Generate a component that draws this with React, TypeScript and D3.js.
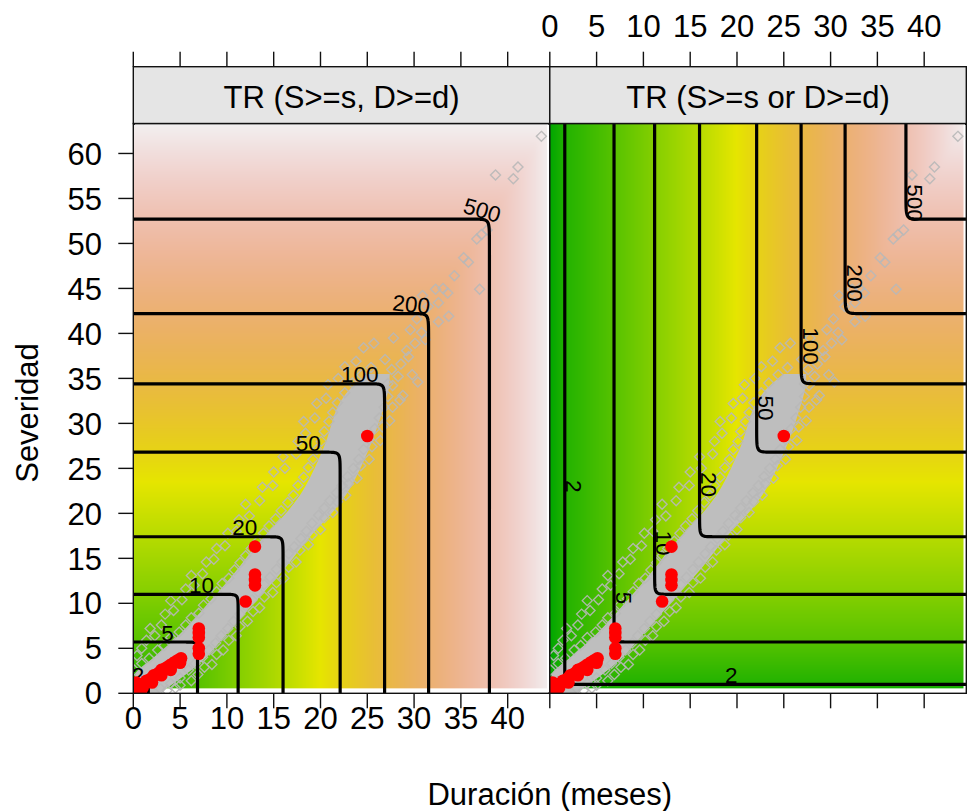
import React, { useMemo } from "react";
import * as d3 from "d3";

// ---------------- data ----------------
const levels = [2, 5, 10, 20, 50, 100, 200, 500];
// severity where each return-period level is reached (S marginal)
const sevAtLevel = [1.0, 5.7, 11.0, 17.4, 26.8, 34.4, 42.2, 52.7];
// duration where each return-period level is reached (D marginal)
const durAtLevel = [1.6, 6.86, 11.2, 16.0, 22.1, 26.85, 31.55, 38.05];

const xTickValues = [0, 5, 10, 15, 20, 25, 30, 35, 40];
const yTickValues = [0, 5, 10, 15, 20, 25, 30, 35, 40, 45, 50, 55, 60];
const panelTitles = ["TR (S>=s, D>=d)", "TR (S>=s or D>=d)"];
const xTitle = "Duración (meses)";
const yTitle = "Severidad";

// observed events (red)
const obsDur = [25, 13, 13, 13, 13, 12, 7, 7, 7, 7, 7,
  0.2, 0.4, 0.7, 0.9, 1.2, 1.4, 1.7, 2.0, 2.2, 2.5, 2.8, 3.0, 3.3, 3.6, 3.9, 4.2, 4.5, 4.8, 5.1, 1.0, 2.0, 3.0, 4.0, 5.0, 0.6, 0.3];
const obsSev = [28.6, 16.3, 13.2, 12.6, 12.0, 10.2, 7.2, 6.7, 6.2, 5.0, 4.4,
  0.3, 0.6, 0.8, 1.0, 1.1, 1.4, 1.5, 1.7, 2.0, 2.1, 2.3, 2.6, 2.7, 2.9, 3.1, 3.3, 3.5, 3.7, 3.9, 0.6, 1.2, 2.0, 2.6, 3.4, 0.2, 1.2];

// dense core of the simulated cloud (grey band): duration range per severity
const bandSev = [0, 2, 4, 6, 8, 10, 12, 14, 16, 18, 20, 22, 24, 26, 28, 30, 32, 34, 35.5];
const bandDurLo = [0, 0.2, 2.2, 4.4, 6.3, 8.0, 9.7, 11.3, 12.8, 14.5, 16.3, 17.8, 18.9, 19.8, 20.6, 21.2, 21.9, 23.3, 25.0];
const bandDurHi = [2.8, 5.5, 7.8, 9.5, 11.2, 12.9, 14.6, 16.3, 17.8, 19.4, 21.2, 22.7, 23.8, 24.7, 25.5, 26.2, 26.8, 27.3, 27.4];

// scattered simulated points (grey hollow diamonds) [duration, severity]
const simPoints = [
  [43.6, 61.9], [41.1, 58.5], [40.6, 57.2], [38.7, 57.6], [37.8, 51.5], [37.2, 51.0], [36.7, 50.5],
  [35.3, 48.4], [35.8, 47.9], [34.3, 46.4], [37.0, 44.9], [33.1, 45.0], [32.3, 44.9], [33.6, 44.5],
  [30.9, 44.2], [32.6, 43.4], [33.7, 41.9], [32.6, 41.3], [30.8, 40.1], [29.6, 40.4], [27.8, 39.5],
  [30.1, 38.9], [29.4, 37.4], [26.9, 37.1], [27.6, 36.0], [28.3, 35.2], [31.5, 43.0], [30.3, 41.6],
  [31.2, 39.3], [29.2, 38.1], [28.6, 36.6], [29.8, 35.4], [27.2, 34.4], [28.8, 33.1], [30.4, 34.6],
  [0.4, 4.2], [0.9, 5.0], [1.4, 5.9], [2.3, 6.4], [1.8, 7.2], [3.0, 7.6], [3.4, 8.8], [4.3, 9.2],
  [4.0, 10.3], [5.2, 10.4], [5.6, 11.6], [6.5, 12.0], [6.2, 13.1], [7.4, 13.3], [7.8, 14.6], [8.6, 14.9],
  [8.9, 16.1], [9.8, 16.4], [10.1, 17.8], [11.0, 18.0], [11.3, 19.3], [12.4, 19.7], [12.0, 21.0],
  [13.5, 21.4], [13.8, 22.9], [14.9, 23.1], [15.0, 24.6], [16.2, 25.0], [16.0, 26.3], [17.4, 26.6],
  [17.6, 28.0], [18.4, 28.9], [18.2, 30.2], [19.4, 30.6], [19.6, 32.2], [20.6, 32.8], [20.8, 34.3],
  [21.9, 35.0], [22.6, 36.3], [23.8, 36.9], [24.6, 38.4], [25.7, 38.9],
  [3.6, 0.3], [4.5, 0.6], [5.0, 0.9], [6.2, 1.4], [6.9, 2.1], [7.6, 2.9], [8.4, 3.2], [8.9, 4.3],
  [9.6, 4.8], [10.2, 5.9], [11.0, 6.4], [11.4, 7.4], [12.2, 8.0], [12.8, 9.1], [13.5, 9.5], [14.0, 10.7],
  [14.9, 11.2], [15.3, 12.3], [16.1, 12.8], [16.6, 14.0], [17.4, 14.6], [17.8, 15.9], [18.7, 16.5],
  [19.1, 17.6], [20.0, 18.2], [20.4, 19.5], [21.3, 20.1], [21.8, 21.3], [22.7, 22.0], [23.0, 23.3],
  [23.9, 23.9], [24.3, 25.3], [25.2, 26.0], [25.5, 27.4], [26.4, 28.1], [26.6, 29.6], [27.4, 30.3],
  [27.7, 31.8], [28.5, 32.6],
  [0.1, 2.6], [0.9, 3.3], [1.7, 3.9], [2.6, 4.8], [3.3, 5.3], [4.0, 6.2], [4.9, 6.8], [5.6, 7.6],
  [6.2, 8.4], [7.0, 8.9], [7.5, 9.8], [8.3, 10.5], [8.9, 11.3], [9.5, 12.2], [10.2, 12.8], [10.8, 13.7],
  [11.4, 14.5], [12.0, 15.3], [12.6, 16.1], [13.3, 16.9], [13.9, 17.8], [14.5, 18.6], [15.2, 19.4],
  [15.8, 20.3], [16.5, 21.2], [17.1, 22.0], [17.6, 23.1], [18.2, 24.0], [18.7, 25.1], [19.2, 26.0],
  [19.6, 27.1], [20.1, 28.0], [20.4, 29.1], [20.9, 30.2], [21.3, 31.2], [21.8, 32.3], [22.6, 33.4],
  [23.4, 34.5], [24.4, 35.4], [25.4, 36.2],
  [2.9, 0.5], [4.0, 1.1], [5.0, 1.7], [5.9, 2.6], [6.6, 3.3], [7.4, 4.0], [8.1, 4.8], [8.8, 5.6],
  [9.4, 6.4], [10.1, 7.2], [10.7, 8.0], [11.4, 8.8], [12.0, 9.7], [12.7, 10.4], [13.3, 11.3], [14.0, 12.1],
  [14.6, 12.9], [15.3, 13.8], [15.9, 14.6], [16.6, 15.5], [17.2, 16.3], [17.9, 17.2], [18.5, 18.0],
  [19.1, 18.9], [19.8, 19.8], [20.4, 20.6], [21.0, 21.4], [21.7, 22.3], [22.3, 23.1], [22.9, 24.1],
  [23.5, 25.0], [24.1, 26.0], [24.6, 27.1], [25.2, 28.2], [25.8, 29.4], [26.3, 30.6], [26.8, 31.8],
  [27.2, 33.0], [27.7, 34.2],
];

// ---------------- layout ----------------
const W = 968;
const H = 811;
const PX0 = [133.3, 549.8];
const PW = 416.5;
const PY0 = 123.5;
const PY1 = 693.3;
const STRIP_Y = 66.7;
const X_MAX = 44.5;
const Y_MAX = 63.33;
const IMG_X1 = 44.2;
const IMG_Y0 = 0.55;
const TICK = 15;
const FONT = "'Liberation Sans', Arial, Helvetica, sans-serif";
const FS = 31;
const LABEL_FS = 22.5;

// contour label placement (layout): left panel -> along horizontal part, offset from corner
const leftLabelOffset = [1.1, 3.2, 3.9, 4.1, 3.4, 2.65, 1.95, 1.05];
const leftLabelRotate = [0, 0, 0, 0, 0, 0, 6, 16];
// right panel -> along vertical part, severity of label centre
const rightLabelSev = [23.0, 10.6, 16.7, 23.2, 31.7, 38.6, 45.6, 54.5];
const rightExtraLabelDur = 19.4; // second label of level 2 on horizontal branch

// ---------------- model of return-period surface ----------------
const lnLevels = levels.map(Math.log);
const sevToLn = d3.scaleLinear().domain([0, ...sevAtLevel]).range([0, ...lnLevels]);
const durToLn = d3.scaleLinear().domain([0, ...durAtLevel]).range([0, ...lnLevels]);
const K = 25;
function smax(a: number, b: number) {
  const m = Math.max(a, b);
  return m + Math.log(Math.exp(K * (a - m)) + Math.exp(K * (b - m))) / K;
}
function lnTR(panel: number, d: number, s: number) {
  const a = sevToLn(s);
  const b = durToLn(d);
  return panel === 0 ? smax(a, b) : -smax(-a, -b);
}

// terrain.colors as continuous ramp
const tScale = d3.scaleLinear().domain([0, Math.log(1300)]).range([0, 1]).clamp(true);
const hS = d3.scaleLinear().domain([0, 0.5, 1]).range([120, 60, 0]);
const sS = d3.scaleLinear().domain([0, 0.5, 1]).range([1, 1, 0]);
const vS = d3.scaleLinear().domain([0, 0.5, 1]).range([0.65, 0.9, 0.95]);
function hsv(h: number, s: number, v: number): [number, number, number] {
  const c = v * s;
  const hp = h / 60;
  const x = c * (1 - Math.abs((hp % 2) - 1));
  let r = 0, g = 0;
  if (hp < 1) { r = c; g = x; } else { r = x; g = c; }
  const m = v - c;
  return [(r + m) * 255, (g + m) * 255, m * 255];
}
function colorOf(ln: number) {
  const t = tScale(ln);
  return hsv(hS(t), sS(t), vS(t));
}

function xScaleFor(p: number) {
  return d3.scaleLinear().domain([0, X_MAX]).range([PX0[p], PX0[p] + PW]);
}
const yScale = d3.scaleLinear().domain([0, Y_MAX]).range([PY1, PY0]);

function fieldImage(p: number) {
  const xs = xScaleFor(p);
  const x0 = xs(0), x1 = xs(IMG_X1), y0 = yScale(Y_MAX), y1 = yScale(IMG_Y0);
  const w = Math.round(x1 - x0), h = Math.round(y1 - y0);
  const canvas = document.createElement("canvas");
  canvas.width = w;
  canvas.height = h;
  const ctx = canvas.getContext("2d")!;
  const img = ctx.createImageData(w, h);
  for (let j = 0; j < h; j++) {
    const s = yScale.invert(y0 + j + 0.5);
    for (let i = 0; i < w; i++) {
      const d = xs.invert(x0 + i + 0.5);
      const [r, g, b] = colorOf(lnTR(p, d, s));
      const k = (j * w + i) * 4;
      img.data[k] = r; img.data[k + 1] = g; img.data[k + 2] = b; img.data[k + 3] = 255;
    }
  }
  ctx.putImageData(img, 0, 0);
  return { href: canvas.toDataURL(), x: x0, y: y0, w: x1 - x0, h: y1 - y0 };
}

const STEP = 0.1;
function contourPaths(p: number) {
  const xs = xScaleFor(p);
  const nx = Math.round(X_MAX / STEP) + 1;
  const ny = Math.round(Y_MAX / STEP) + 1;
  const values = new Float64Array(nx * ny);
  for (let j = 0; j < ny; j++)
    for (let i = 0; i < nx; i++) values[j * nx + i] = lnTR(p, i * STEP, j * STEP);
  const cs = d3.contours().size([nx, ny]).thresholds(lnLevels)(Array.from(values));
  const X = (c: number) => xs((c - 0.5) * STEP);
  const Y = (c: number) => yScale((c - 0.5) * STEP);
  const same = (a: number[], b: number[]) =>
    (a[0] === 0 && b[0] === 0) || (a[0] === nx && b[0] === nx) ||
    (a[1] === 0 && b[1] === 0) || (a[1] === ny && b[1] === ny);
  return cs.map((c) => {
    let dstr = "";
    for (const poly of c.coordinates) {
      for (const ring of poly) {
        let pen = false;
        for (let k = 0; k < ring.length - 1; k++) {
          const a = ring[k], b = ring[k + 1];
          if (same(a, b)) { pen = false; continue; }
          if (!pen) { dstr += `M${X(a[0]).toFixed(2)},${Y(a[1]).toFixed(2)}`; pen = true; }
          dstr += `L${X(b[0]).toFixed(2)},${Y(b[1]).toFixed(2)}`;
        }
      }
    }
    return dstr;
  });
}

const diamond = "M0,-5L5,0L0,5L-5,0Z";

function Panel({ p }: { p: number }) {
  const xs = useMemo(() => xScaleFor(p), [p]);
  const img = useMemo(() => fieldImage(p), [p]);
  const paths = useMemo(() => contourPaths(p), [p]);
  const band = d3
    .area<number>()
    .y((_, i) => yScale(bandSev[i]))
    .x0((_, i) => xs(bandDurLo[i]))
    .x1((_, i) => xs(bandDurHi[i]))
    .curve(d3.curveMonotoneY)(bandSev);
  const clipId = `clip${p}`;
  return (
    <g>
      <defs>
        <clipPath id={clipId}>
          <rect x={PX0[p]} y={PY0} width={PW} height={PY1 - PY0} />
        </clipPath>
      </defs>
      <rect x={PX0[p]} y={PY0} width={PW} height={PY1 - PY0} fill="#ffffff" />
      <g clipPath={`url(#${clipId})`}>
        <image href={img.href} x={img.x} y={img.y} width={img.w} height={img.h} preserveAspectRatio="none" />
        <path d={band || ""} fill="#BEBEBE" />
        {simPoints.map(([d, s], i) => (
          <path key={i} d={diamond} transform={`translate(${xs(d)},${yScale(s)})`} fill="none" stroke="#B8B8B8" strokeOpacity={0.9} strokeWidth={1.4} />
        ))}
        {paths.map((d, i) => (
          <path key={i} d={d} fill="none" stroke="#000" strokeWidth={3.2} strokeLinejoin="round" />
        ))}
        {levels.map((lv, i) =>
          p === 0 ? (
            <text key={i} x={xs(durAtLevel[i] - leftLabelOffset[i])} y={yScale(sevAtLevel[i]) - 1.5}
              textAnchor="middle" fontFamily={FONT} fontSize={LABEL_FS} fill="#000"
              transform={`rotate(${leftLabelRotate[i]},${xs(durAtLevel[i] - leftLabelOffset[i])},${yScale(sevAtLevel[i])})`}>
              {lv}
            </text>
          ) : (
            <text key={i} x={0} y={0} textAnchor="middle" fontFamily={FONT} fontSize={LABEL_FS} fill="#000"
              transform={`translate(${xs(durAtLevel[i]) + 1.5},${yScale(rightLabelSev[i])}) rotate(90)`}>
              {lv}
            </text>
          )
        )}
        {p === 1 && (
          <text x={xs(rightExtraLabelDur)} y={yScale(sevAtLevel[0]) - 1.5} textAnchor="middle" fontFamily={FONT} fontSize={LABEL_FS} fill="#000">
            {levels[0]}
          </text>
        )}
        {obsDur.map((d, i) => (
          <circle key={i} cx={xs(d)} cy={yScale(obsSev[i])} r={6.3} fill="#FF0000" />
        ))}
      </g>
      <rect x={PX0[p]} y={PY0} width={PW} height={PY1 - PY0} fill="none" stroke="#111" strokeWidth={1.4} />
      {/* strip */}
      <rect x={PX0[p]} y={STRIP_Y} width={PW} height={PY0 - STRIP_Y} fill="#E5E5E5" stroke="#111" strokeWidth={1.4} />
      <text x={PX0[p] + PW / 2} y={107.5} textAnchor="middle" fontFamily={FONT} fontSize={FS} fill="#000">
        {panelTitles[p]}
      </text>
      {/* ticks */}
      {xTickValues.map((v) => (
        <g key={v}>
          <line x1={xs(v)} x2={xs(v)} y1={PY1} y2={PY1 + TICK} stroke="#111" strokeWidth={1.4} />
          <line x1={xs(v)} x2={xs(v)} y1={STRIP_Y - TICK} y2={STRIP_Y} stroke="#111" strokeWidth={1.4} />
          {p === 0 && (
            <text x={xs(v)} y={729} textAnchor="middle" fontFamily={FONT} fontSize={FS} fill="#000">{v}</text>
          )}
          {p === 1 && (
            <text x={xs(v)} y={36.7} textAnchor="middle" fontFamily={FONT} fontSize={FS} fill="#000">{v}</text>
          )}
        </g>
      ))}
    </g>
  );
}

export default function App() {
  return (
    <svg width={W} height={H} viewBox={`0 0 ${W} ${H}`} style={{ position: "absolute", left: 0, top: 0, display: "block", background: "#fff" }}>
      <rect x={0} y={0} width={W} height={H} fill="#fff" />
      <Panel p={0} />
      <Panel p={1} />
      {yTickValues.map((v) => (
        <g key={v}>
          <line x1={PX0[0] - TICK} x2={PX0[0]} y1={yScale(v)} y2={yScale(v)} stroke="#111" strokeWidth={1.4} />
          <text x={102} y={yScale(v)} dy="0.36em" textAnchor="end" fontFamily={FONT} fontSize={FS} fill="#000">{v}</text>
        </g>
      ))}
      <text x={(PX0[0] + PX0[1] + PW) / 2} y={805} textAnchor="middle" fontFamily={FONT} fontSize={FS} fill="#000">{xTitle}</text>
      <text transform={`translate(38,413) rotate(-90)`} textAnchor="middle" fontFamily={FONT} fontSize={FS} fill="#000">{yTitle}</text>
    </svg>
  );
}
